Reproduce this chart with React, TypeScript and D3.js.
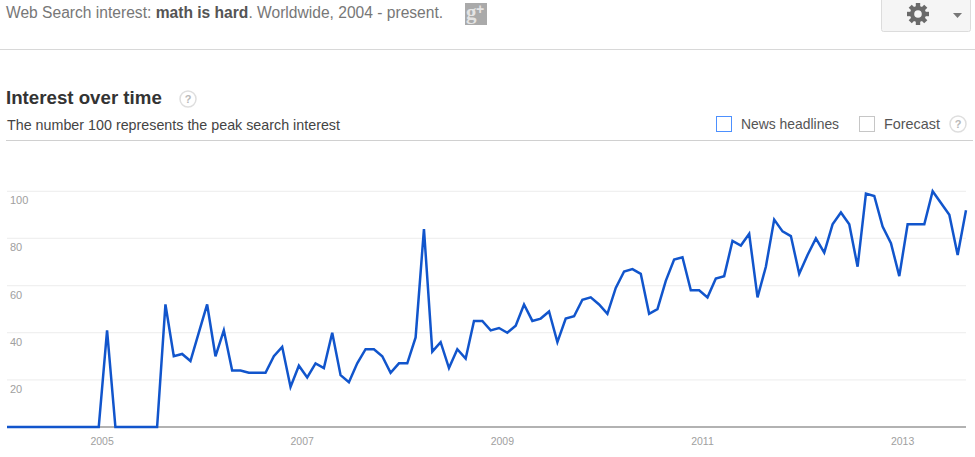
import * as d3 from 'd3';

// monthly search interest, Jan 2004 onwards
const interest = [
  0, 0, 0, 0, 0, 0, 0, 0, 0, 0, 0, 0,
  41, 0, 0, 0, 0, 0, 0, 52, 30, 31, 28, 40,
  52, 30, 41, 24, 24, 23, 23, 23, 30, 34, 17, 26,
  21, 27, 25, 40, 22, 19, 27, 33, 33, 30, 23, 27,
  27, 38, 84, 32, 36, 25, 33, 29, 45, 45, 41, 42,
  40, 43, 52, 45, 46, 49, 36, 46, 47, 54, 55, 52,
  48, 59, 66, 67, 65, 48, 50, 62, 71, 72, 58, 58,
  55, 63, 64, 79, 77, 82, 55, 68, 88, 83, 81, 65,
  73, 80, 74, 86, 91, 86, 68, 99, 98, 85, 78, 64,
  86, 86, 86, 100, 95, 90, 73, 92,
];
const yTicks = [20, 40, 60, 80, 100];
const yearLabels = [2005, 2007, 2009, 2011, 2013];
const font = 'Arial, "Liberation Sans", sans-serif';

const xScale = d3.scaleLinear().domain([0, interest.length - 1]).range([7, 966]);
const yScale = d3.scaleLinear().domain([0, 100]).range([427, 191.3]);

const trend = d3.line<number>()
  .x((_, i) => xScale(i))
  .y(d => yScale(d));

// gear outline for the settings button
const gearTeeth = d3.range(4).map(i => i * 45);

function Help({ cx, cy }: { cx: number; cy: number; }) {
  return (
    <g>
      <circle cx={cx} cy={cy} r={8} fill="#fff" stroke="#dedede" strokeWidth={1.5} />
      <text x={cx} y={cy + 4} textAnchor="middle" fontSize={11} fontWeight="bold" fill="#b8b8b8">?</text>
    </g>
  );
}

export default function App() {
  return (
    <svg
      width={975}
      height={457}
      style={{ position: 'absolute', left: 0, top: 0, fontFamily: font }}
    >
      <rect width={975} height={457} fill="#fff" />

      <text x={6} y={18} fontSize={15.6} fill="#777">
        Web Search interest: <tspan fontWeight="bold" fill="#555">math is hard</tspan>. Worldwide, 2004 - present.
      </text>
      <rect x={465} y={3} width={22} height={22} fill="#aaa" />
      <text x={466} y={19} fontSize={21} fontWeight="bold" fontFamily="Liberation Serif" fill="#e4e4e4">g</text>
      <text x={476} y={14} fontSize={14} fontWeight="bold" fill="#e4e4e4">+</text>

      <rect x={881.5} y={-3} width={89} height={34.5} rx={2} fill="#f5f5f5" stroke="#dcdcdc" />
      <g transform="translate(918,14)" fill="#6a6a6a">
        {gearTeeth.map(a => (
          <rect key={a} x={-2.2} y={-11} width={4.4} height={22} transform={`rotate(${a})`} />
        ))}
        <circle r={8} />
        <circle r={3.8} fill="#f5f5f5" />
      </g>
      <path d="M953 13 h9 l-4.5 5 z" fill="#777" />

      <line x1={0} x2={975} y1={49.5} y2={49.5} stroke="#d8d8d8" />
      <line x1={6} x2={973} y1={140.5} y2={140.5} stroke="#d0d0d0" />

      <text x={6} y={104} fontSize={18.7} fontWeight="bold" fill="#333">Interest over time</text>
      <Help cx={188} cy={99} />
      <text x={7} y={130} fontSize={14.3} fill="#444">The number 100 represents the peak search interest</text>

      <rect x={716.5} y={116.5} width={15} height={15} fill="#fff" stroke="#4d90fe" />
      <text x={741} y={129} fontSize={13.9} fill="#555">News headlines</text>
      <rect x={859.5} y={116.5} width={15} height={15} fill="#fff" stroke="#c6c6c6" />
      <text x={884} y={129} fontSize={14.4} fill="#555">Forecast</text>
      <Help cx={958} cy={124} />

      {yTicks.map(t => (
        <g key={t}>
          <line x1={7} x2={966} y1={yScale(t)} y2={yScale(t)} stroke="#f0f0f0" strokeWidth={1.3} />
          <text x={10} y={yScale(t) + 12} dy={1} fontSize={11} fill="#a0a0a0">{t}</text>
        </g>
      ))}
      <line x1={7} x2={966} y1={yScale(0)} y2={yScale(0)} stroke="#999" strokeWidth={1.3} />

      {yearLabels.map(year => (
        <text
          key={year}
          x={xScale((year - 2004) * 12) - 5}
          y={445}
          fontSize={10.5}
          textAnchor="middle"
          fill="#a0a0a0"
        >
          {year}
        </text>
      ))}

      <path d={trend(interest) ?? ''} fill="none" stroke="#1155cc" strokeWidth={2.5} strokeLinejoin="miter" />
    </svg>
  );
}
